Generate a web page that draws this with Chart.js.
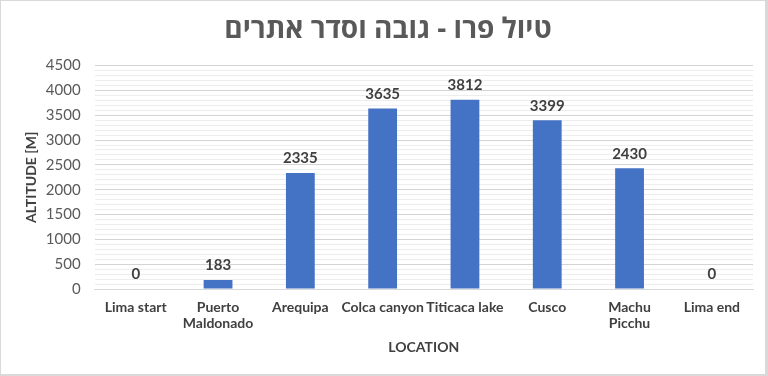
<!DOCTYPE html>
<html lang="he">
<head>
  <meta charset="UTF-8">
  <title>טיול פרו</title>
  <script src="https://cdn.jsdelivr.net/npm/chart.js"></script>
  <style>
    html, body { margin: 0; padding: 0; background: #fff; }
    .box {
      width: 768px;
      height: 376px;
      box-sizing: border-box;
      border: 1px solid #d9d9d9;
      border-right-width: 3px;
      border-bottom-width: 2px;
    }
  </style>
</head>
<body>
  <div class="box"><canvas id="altChart" width="764" height="373"></canvas></div>

  <script>
    const locations = ["Lima start", ["Puerto", "Maldonado"], "Arequipa", "Colca canyon", "Titicaca lake", "Cusco", ["Machu", "Picchu"], "Lima end"];
    const altitudes = [0, 183, 2335, 3635, 3812, 3399, 2430, 0];
    const chartTitle = "טיול פרו - גובה וסדר אתרים";
    const yTitle = "ALTITUDE [M]";
    const xTitle = "LOCATION";

    const FONT = "Lato, 'Open Sans', sans-serif";
    const TITLE_FONT = "'Open Sans', 'DejaVu Sans', sans-serif";

    // value labels above each bar
    const valueLabels = {
      id: "valueLabels",
      afterDatasetsDraw(chart) {
        const ctx = chart.ctx;
        const meta = chart.getDatasetMeta(0);
        ctx.save();
        ctx.font = "bold 15px " + FONT;
        ctx.fillStyle = "#404040";
        ctx.textAlign = "center";
        ctx.textBaseline = "bottom";
        meta.data.forEach((bar, i) => {
          ctx.fillText(String(altitudes[i]), bar.x, bar.y - 7);
        });
        ctx.restore();
      }
    };

    new Chart(document.getElementById("altChart").getContext("2d"), {
      type: "bar",
      data: {
        labels: locations,
        datasets: [{
          data: altitudes,
          backgroundColor: "#4472c4",
          barPercentage: 0.35,
          categoryPercentage: 1
        }]
      },
      options: {
        responsive: false,
        animation: false,
        layout: { padding: { left: 22, right: 12, top: 8, bottom: 14 } },
        plugins: {
          legend: { display: false },
          tooltip: { enabled: false },
          title: {
            display: true,
            text: chartTitle,
            color: "#595959",
            font: { family: TITLE_FONT, size: 28, weight: "bold" },
            padding: { top: 4, bottom: 19 }
          }
        },
        scales: {
          x: {
            grid: { display: false },
            border: { color: "#d9d9d9" },
            ticks: {
              color: "#404040",
              font: { family: FONT, size: 14, weight: "bold", lineHeight: 1.15 },
              maxRotation: 0,
              autoSkip: false,
              padding: 2
            },
            title: {
              display: true,
              text: xTitle,
              color: "#404040",
              font: { family: FONT, size: 14, weight: "bold" },
              padding: { top: 6 }
            }
          },
          y: {
            min: 0,
            max: 4500,
            border: { display: false },
            grid: {
              color: c => (c.tick.value % 500 === 0 ? "#d4d4d4" : "#ededed"),
              drawTicks: false
            },
            ticks: {
              stepSize: 100,
              autoSkip: false,
              color: "#595959",
              font: { family: FONT, size: 15 },
              padding: 14,
              callback: v => (v % 500 === 0 ? v : "")
            },
            title: {
              display: true,
              text: yTitle,
              color: "#404040",
              font: { family: FONT, size: 14, weight: "bold" },
              padding: { top: 0, bottom: -8 }
            }
          }
        }
      },
      plugins: [valueLabels]
    });
  </script>
</body>
</html>
